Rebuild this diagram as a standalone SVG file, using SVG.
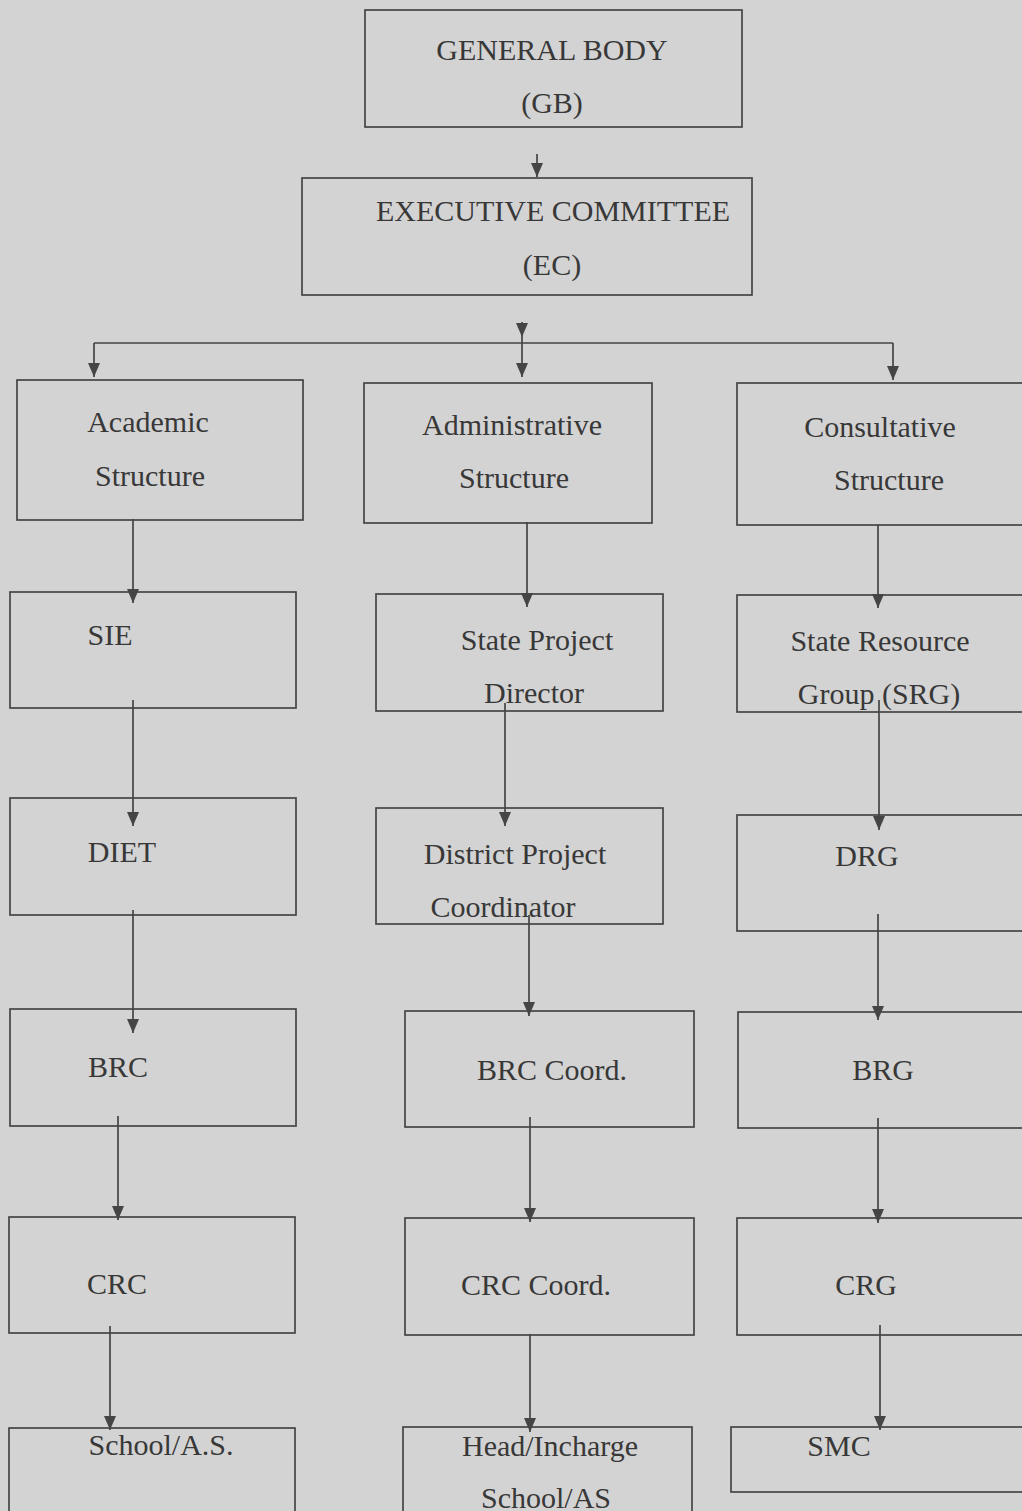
<svg xmlns="http://www.w3.org/2000/svg" width="1022" height="1511" viewBox="0 0 1022 1511">
<style>
.box{fill:none;stroke:#454545;stroke-width:1.7}
.t{font-family:"Liberation Serif","Times New Roman",serif;font-size:30px;fill:#383838;text-anchor:middle}
.c{fill:none;stroke:#454545;stroke-width:1.7}
.a{fill:none;stroke:#454545;stroke-width:1.7;marker-end:url(#ah)}
</style>
<defs>
<marker id="ah" markerUnits="userSpaceOnUse" viewBox="0 0 14 12" refX="14" refY="6" markerWidth="14" markerHeight="12" orient="auto">
<path d="M0,0 L14,6 L0,12 z" fill="#454545"/>
</marker>
</defs>
<rect x="0" y="0" width="1022" height="1511" fill="#d3d3d3"/>

<g id="connectors">
<path class="a" d="M537,154 V177"/>
<path class="a" d="M522,322 V337"/>
<path class="a" d="M522,337 V377"/>
<path class="c" d="M94,343 H893"/>
<path class="a" d="M94,343 V377"/>
<path class="a" d="M893,343 V380"/>
<path class="a" d="M133,519 V603"/>
<path class="a" d="M133,700 V826"/>
<path class="a" d="M133,910 V1033"/>
<path class="a" d="M118,1116 V1220"/>
<path class="a" d="M110,1326 V1430"/>
<path class="a" d="M527,522 V607"/>
<path class="a" d="M505,703 V826"/>
<path class="a" d="M529,915 V1016"/>
<path class="a" d="M530,1117 V1222"/>
<path class="a" d="M530,1334 V1432"/>
<path class="a" d="M878,525 V608"/>
<path class="a" d="M879,700 V830"/>
<path class="a" d="M878,914 V1020"/>
<path class="a" d="M878,1118 V1223"/>
<path class="a" d="M880,1325 V1430"/>
</g>

<g id="gb"><rect class="box" x="365" y="10" width="377" height="117"/>
<text class="t" x="552" y="60">GENERAL BODY</text><text class="t" x="552" y="113">(GB)</text></g>
<g id="ec"><rect class="box" x="302" y="178" width="450" height="117"/>
<text class="t" x="553" y="221">EXECUTIVE COMMITTEE</text><text class="t" x="552" y="275">(EC)</text></g>

<g id="academic"><rect class="box" x="17" y="380" width="286" height="140"/>
<text class="t" x="148" y="432">Academic</text><text class="t" x="150" y="486">Structure</text></g>
<g id="administrative"><rect class="box" x="364" y="383" width="288" height="140"/>
<text class="t" x="512" y="435">Administrative</text><text class="t" x="514" y="488">Structure</text></g>
<g id="consultative"><rect class="box" x="737" y="383" width="310" height="142"/>
<text class="t" x="880" y="437">Consultative</text><text class="t" x="889" y="490">Structure</text></g>

<g id="sie"><rect class="box" x="10" y="592" width="286" height="116"/>
<text class="t" x="110" y="645">SIE</text></g>
<g id="spd"><rect class="box" x="376" y="594" width="287" height="117"/>
<text class="t" x="537" y="650">State Project</text><text class="t" x="534" y="703">Director</text></g>
<g id="srg"><rect class="box" x="737" y="595" width="310" height="117"/>
<text class="t" x="880" y="651">State Resource</text><text class="t" x="879" y="704">Group (SRG)</text></g>

<g id="diet"><rect class="box" x="10" y="798" width="286" height="117"/>
<text class="t" x="122" y="862">DIET</text></g>
<g id="dpc"><rect class="box" x="376" y="808" width="287" height="116"/>
<text class="t" x="515" y="864">District Project</text><text class="t" x="503" y="917">Coordinator</text></g>
<g id="drg"><rect class="box" x="737" y="815" width="310" height="116"/>
<text class="t" x="867" y="866">DRG</text></g>

<g id="brc"><rect class="box" x="10" y="1009" width="286" height="117"/>
<text class="t" x="118" y="1077">BRC</text></g>
<g id="brccoord"><rect class="box" x="405" y="1011" width="289" height="116"/>
<text class="t" x="552" y="1080">BRC Coord.</text></g>
<g id="brg"><rect class="box" x="738" y="1012" width="310" height="116"/>
<text class="t" x="883" y="1080">BRG</text></g>

<g id="crc"><rect class="box" x="9" y="1217" width="286" height="116"/>
<text class="t" x="117" y="1294">CRC</text></g>
<g id="crccoord"><rect class="box" x="405" y="1218" width="289" height="117"/>
<text class="t" x="536" y="1295">CRC Coord.</text></g>
<g id="crg"><rect class="box" x="737" y="1218" width="310" height="117"/>
<text class="t" x="866" y="1295">CRG</text></g>

<g id="school"><rect class="box" x="9" y="1428" width="286" height="110"/>
<text class="t" x="161" y="1455">School/A.S.</text></g>
<g id="head"><rect class="box" x="403" y="1427" width="289" height="110"/>
<text class="t" x="550" y="1456">Head/Incharge</text><text class="t" x="546" y="1508">School/AS</text></g>
<g id="smc"><rect class="box" x="731" y="1427" width="310" height="65"/>
<text class="t" x="839" y="1456">SMC</text></g>
</svg>
